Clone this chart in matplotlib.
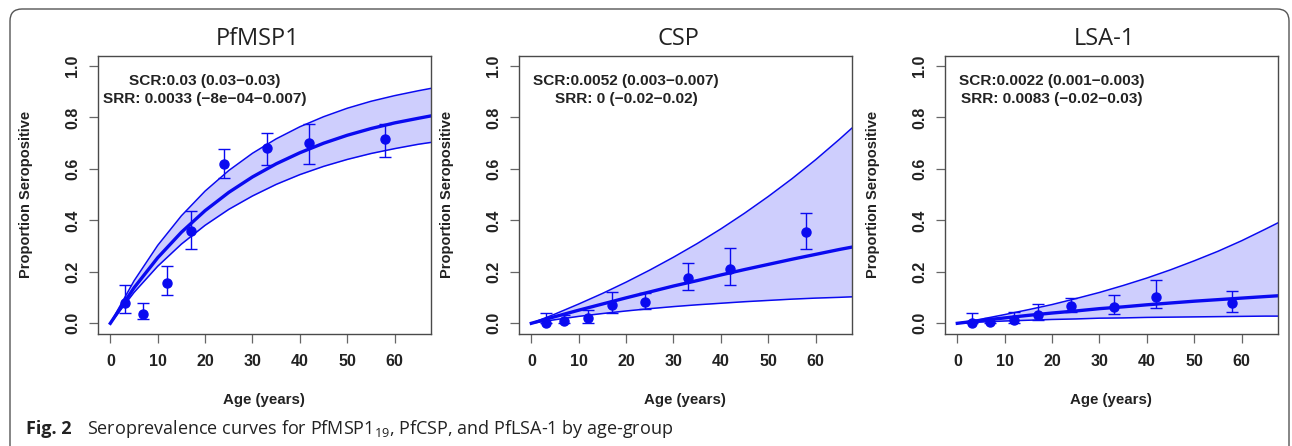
import matplotlib
matplotlib.use('Agg')
from matplotlib import pyplot as plt
from matplotlib.patches import FancyBboxPatch
from matplotlib.transforms import IdentityTransform

# age-group midpoints and observed seroprevalence (with 95% CI)
ages = [3, 7, 12, 17, 24, 33, 42, 58]

msp1_obs = [0.079, 0.036, 0.155, 0.360, 0.620, 0.680, 0.702, 0.716]
msp1_lo = [0.040, 0.018, 0.109, 0.290, 0.565, 0.616, 0.620, 0.648]
msp1_hi = [0.148, 0.079, 0.221, 0.436, 0.677, 0.741, 0.776, 0.776]

csp_obs = [0.003, 0.010, 0.019, 0.070, 0.084, 0.178, 0.211, 0.356]
csp_lo = [0.000, 0.000, 0.002, 0.039, 0.055, 0.130, 0.150, 0.290]
csp_hi = [0.039, 0.032, 0.053, 0.121, 0.119, 0.235, 0.291, 0.428]

lsa1_obs = [0.003, 0.004, 0.011, 0.033, 0.067, 0.065, 0.103, 0.080]
lsa1_lo = [0.000, 0.000, 0.000, 0.013, 0.045, 0.038, 0.060, 0.045]
lsa1_hi = [0.040, 0.020, 0.045, 0.075, 0.098, 0.109, 0.168, 0.124]

# fitted curves
curve_age = [0, 5, 10, 15, 20, 25, 30, 35, 40, 45, 50, 55, 60, 65, 67.6]

msp1_fit = [0, 0.138, 0.255, 0.354, 0.438, 0.509, 0.569, 0.620, 0.663, 0.700, 0.731, 0.757, 0.779, 0.797, 0.806]
msp1_fit_lo = [0, 0.120, 0.222, 0.308, 0.381, 0.443, 0.495, 0.540, 0.578, 0.610, 0.637, 0.660, 0.679, 0.696, 0.703]
msp1_fit_hi = [0, 0.165, 0.303, 0.418, 0.514, 0.594, 0.661, 0.717, 0.764, 0.803, 0.836, 0.863, 0.885, 0.904, 0.913]

csp_fit = [0, 0.026, 0.051, 0.075, 0.099, 0.122, 0.145, 0.166, 0.188, 0.209, 0.229, 0.249, 0.268, 0.287, 0.296]
csp_fit_lo = [0, 0.014, 0.027, 0.038, 0.048, 0.057, 0.065, 0.072, 0.078, 0.084, 0.089, 0.094, 0.098, 0.101, 0.103]
csp_fit_hi = [0, 0.036, 0.075, 0.116, 0.160, 0.207, 0.257, 0.310, 0.367, 0.428, 0.493, 0.562, 0.636, 0.715, 0.758]

lsa1_fit = [0, 0.011, 0.021, 0.031, 0.040, 0.048, 0.057, 0.064, 0.072, 0.079, 0.086, 0.092, 0.098, 0.104, 0.107]
lsa1_fit_lo = [0, 0.005, 0.009, 0.012, 0.015, 0.017, 0.020, 0.021, 0.023, 0.024, 0.025, 0.026, 0.027, 0.028, 0.028]
lsa1_fit_hi = [0, 0.016, 0.034, 0.053, 0.073, 0.096, 0.120, 0.147, 0.176, 0.208, 0.243, 0.280, 0.321, 0.366, 0.390]

titles = ['PfMSP1', 'CSP', 'LSA-1']
scr_text = ['SCR:0.03 (0.03\u22120.03)', 'SCR:0.0052 (0.003\u22120.007)', 'SCR:0.0022 (0.001\u22120.003)']
srr_text = ['SRR: 0.0033 (\u22128e\u221204\u22120.007)', 'SRR: 0 (\u22120.02\u22120.02)', 'SRR: 0.0083 (\u22120.02\u22120.03)']

panels = [
    (msp1_obs, msp1_lo, msp1_hi, msp1_fit, msp1_fit_lo, msp1_fit_hi),
    (csp_obs, csp_lo, csp_hi, csp_fit, csp_fit_lo, csp_fit_hi),
    (lsa1_obs, lsa1_lo, lsa1_hi, lsa1_fit, lsa1_fit_lo, lsa1_fit_hi),
]

blue = '#0a0af0'
fill = '#cecefd'
box = '#4a4a4a'
rfont = 'Liberation Sans'

fig = plt.figure(figsize=(12.92, 4.46), dpi=100)

# rounded frame around the figure panel
frame = FancyBboxPatch((10, -30), 1279, 437 + 30, boxstyle='round,pad=0,rounding_size=12',
                       transform=IdentityTransform(), facecolor='none', edgecolor='#555555', linewidth=1.0)
fig.add_artist(frame)

lefts = [98 / 1292, 519 / 1292, 945 / 1292]
for i, (obs, lo, hi, fit, fit_lo, fit_hi) in enumerate(panels):
    ax = fig.add_axes([lefts[i], 0.252, 0.2575, 0.623])
    ax.fill_between(curve_age, fit_lo, fit_hi, color=fill, linewidth=0)
    ax.plot(curve_age, fit_lo, color=blue, linewidth=1.1)
    ax.plot(curve_age, fit_hi, color=blue, linewidth=1.1)
    ax.plot(curve_age, fit, color=blue, linewidth=2.4)
    yerr = [[o - l for o, l in zip(obs, lo)], [h - o for o, h in zip(obs, hi)]]
    ax.errorbar(ages, obs, yerr=yerr, fmt='o', color=blue, markersize=6.5,
                elinewidth=1.0, capsize=4, capthick=1.0)
    ax.set_xlim(-2.6, 67.6)
    ax.set_ylim(-0.04, 1.04)
    ax.set_xticks(range(0, 70, 10))
    ax.set_yticks([0, 0.2, 0.4, 0.6, 0.8, 1.0])
    ax.set_yticklabels(['0.0', '0.2', '0.4', '0.6', '0.8', '1.0'], rotation=90, va='center')
    for lab in ax.get_xticklabels() + ax.get_yticklabels():
        lab.set_fontfamily(rfont)
        lab.set_fontweight('bold')
        lab.set_fontsize(11.5)
        lab.set_color('#222222')
    ax.tick_params(direction='out', length=6.5, width=0.9, color='#666666')
    ax.tick_params(axis='x', pad=8)
    ax.tick_params(axis='y', pad=6.5)
    for sp in ax.spines.values():
        sp.set_color(box)
        sp.set_linewidth(1.0)
    ax.set_ylabel('Proportion Seropositive', fontfamily=rfont, fontweight='bold', fontsize=10.5, color='#222222')
    ax.yaxis.set_label_coords(-0.195, 0.5)
    ax.set_xlabel('Age (years)', fontfamily=rfont, fontweight='bold', fontsize=10.8, color='#222222')
    ax.xaxis.set_label_coords(0.5, -0.215)
    ax.set_title(titles[i], fontfamily='Open Sans', fontsize=17, x=0.48, pad=8, color='#222222')
    ax.text(20, 0.94, scr_text[i], ha='center', va='center', fontfamily=rfont,
            fontweight='bold', fontsize=11.1, color='#222222')
    ax.text(20, 0.87, srr_text[i], ha='center', va='center', fontfamily=rfont,
            fontweight='bold', fontsize=11.1, color='#222222')

fig.text(26 / 1292, 1 - 429 / 446, 'Fig. 2', fontfamily='Open Sans', fontweight='bold',
         fontsize=13, va='center', ha='left', color='#222222')
fig.text(87 / 1292, 1 - 429 / 446,
         'Seroprevalence curves for PfMSP1$_{\\mathregular{19}}$, PfCSP, and PfLSA-1 by age-group',
         fontfamily='Open Sans', fontsize=13, va='center', ha='left', color='#222222')

fig.savefig('out.png', dpi=100)
